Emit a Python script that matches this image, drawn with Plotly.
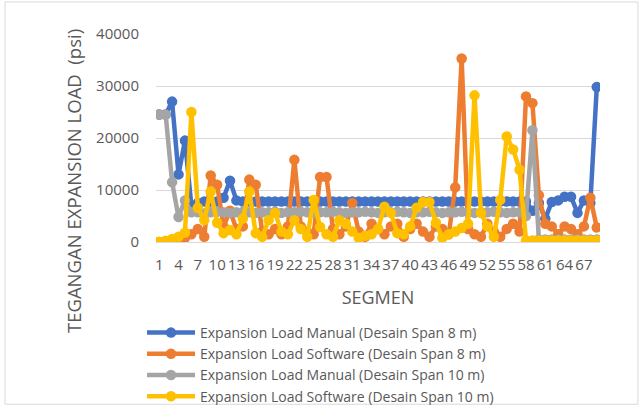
import plotly.graph_objects as go

segments = list(range(1, 70))

manual_8 = [24500, 24500, 27000, 13000, 19500, 7000, 7500, 7800, 7800, 7800,
            8500, 11800, 8000, 7800, 7800, 7800, 7800, 7800, 7800, 7800,
            7800, 7800, 7800, 7800, 7800, 7800, 7800, 7800, 7800, 7800,
            7800, 7800, 7800, 7800, 7800, 7800, 7800, 7800, 7800, 7800,
            7800, 7800, 7800, 7800, 7800, 7800, 7800, 7800, 7800, 7800,
            7800, 7800, 7800, 7800, 7800, 7800, 7800, 7800, 6000, 7500,
            4500, 7700, 8000, 8700, 8700, 5600, 8000, 7500, 29800]

software_8 = [0, 200, 300, 500, 800, 1500, 2500, 1000, 12800, 11000,
              3000, 6000, 2500, 3000, 12000, 11000, 2000, 1500, 2500, 1500,
              3000, 15800, 3000, 2000, 1500, 12500, 12500, 2500, 1500, 3000,
              7500, 2000, 1000, 3500, 2500, 1500, 3000, 3500, 1000, 2500,
              3500, 2000, 1000, 3000, 2500, 1500, 10500, 35300, 2500, 1500,
              1000, 3500, 2000, 1000, 2500, 3500, 2000, 28000, 26700, 9000,
              3500, 3000, 1500, 3000, 2500, 1500, 3000, 8500, 2800]

manual_10 = [24500, 24500, 11500, 4800, 8000, 5700, 5700, 5500, 5700, 5800,
             5700, 5600, 5700, 5800, 5700, 5600, 5700, 5700, 5800, 5600,
             5700, 5700, 5800, 5700, 5600, 5700, 5700, 5800, 5700, 5600,
             5700, 5700, 5800, 5700, 5600, 5700, 5700, 5800, 5700, 5600,
             5700, 5700, 5800, 5700, 5600, 5700, 5700, 5800, 5700, 5600,
             5700, 5700, 5800, 5700, 5600, 5700, 5700, 5000, 21500, 500,
             500, 500, 500, 500, 500, 500, 500, 500, 500]

software_10 = [0, 200, 600, 1000, 1800, 25000, 6600, 4200, 9700, 3700,
               1700, 2300, 1500, 4500, 9700, 1700, 1000, 4200, 5600, 2000,
               1500, 4200, 2500, 1000, 8100, 2900, 1500, 1000, 4200, 3500,
               2000, 800, 1200, 1500, 2500, 6800, 5600, 1700, 1500, 3000,
               6600, 7700, 7700, 3700, 800, 1500, 2000, 2700, 3500, 28200,
               5600, 3000, 1000, 8100, 20300, 17800, 13900, 300, 300, 300,
               300, 300, 300, 300, 300, 300, 300, 300, 300]

series = [
    ("Expansion Load Manual (Desain Span 8 m)", manual_8, "#4472C4"),
    ("Expansion Load Software (Desain Span 8 m)", software_8, "#ED7D31"),
    ("Expansion Load Manual (Desain Span 10 m)", manual_10, "#A5A5A5"),
    ("Expansion Load Software (Desain Span 10 m)", software_10, "#FFC000"),
]

tick_vals = list(range(1, 70, 3))
tick_text = [str(v) for v in tick_vals]

FONT = "Open Sans"
GREY_TXT = "#595959"

fig = go.Figure()
for name, vals, col in series:
    fig.add_trace(go.Scatter(
        x=segments, y=vals, name=name, mode="lines+markers",
        line=dict(color=col, width=4.5),
        marker=dict(color=col, size=10.5, symbol="circle"),
    ))

fig.update_layout(
    width=644, height=405,
    margin=dict(l=156, r=44, t=34, b=163),
    paper_bgcolor="white", plot_bgcolor="white",
    font=dict(family=FONT, size=15, color=GREY_TXT),
    showlegend=True,
    legend=dict(
        xref="paper", yref="container",
        x=-0.0315, y=1 - 317 / 405, xanchor="left", yanchor="top",
        font=dict(family=FONT, size=14, color=GREY_TXT),
        bgcolor="rgba(0,0,0,0)", tracegroupgap=0, itemwidth=48,
    ),
    xaxis=dict(
        range=[0.5, 69.5], tickmode="array", tickvals=tick_vals, ticktext=tick_text,
        showgrid=False, zeroline=False, showline=True, linecolor="#D9D9D9", linewidth=1,
        ticks="", tickangle=0, automargin=False, ticklabelstandoff=9,
        tickfont=dict(family=FONT, size=15, color=GREY_TXT),
        title=dict(text="SEGMEN", font=dict(family=FONT, size=18, color=GREY_TXT), standoff=18),
    ),
    yaxis=dict(
        range=[0, 40000], dtick=10000, showgrid=True, gridcolor="#D9D9D9", gridwidth=1,
        zeroline=False, showline=False, ticks="", ticklabelstandoff=16, automargin=False,
        tickfont=dict(family=FONT, size=15, color=GREY_TXT), tickformat="d",
    ),
    shapes=[dict(type="rect", xref="paper", yref="paper",
                 x0=-0.340, x1=1.0855, y0=-0.78, y1=1.154,
                 line=dict(color="#D9D9D9", width=1), fillcolor="rgba(0,0,0,0)", layer="below")],
    annotations=[dict(text="TEGANGAN EXPANSION LOAD  (psi)", textangle=-90,
                      xref="paper", yref="paper", x=(73 - 156) / 444, y=(242 - 181) / 208,
                      xanchor="center", yanchor="middle", showarrow=False,
                      font=dict(family=FONT, size=18.5, color=GREY_TXT))],
)

fig.write_html("out.html")
